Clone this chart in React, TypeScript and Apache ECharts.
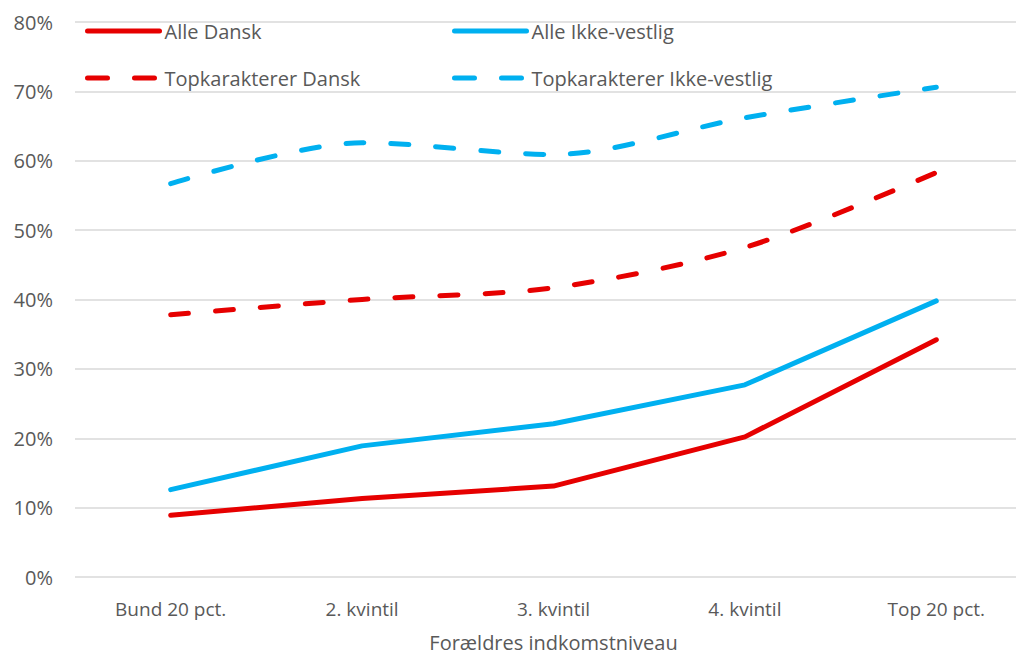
import React, { useEffect, useRef } from "react";
import * as echarts from "echarts";

const categories = ["Bund 20 pct.", "2. kvintil", "3. kvintil", "4. kvintil", "Top 20 pct."];
const alleDansk = [8.9, 11.3, 13.1, 20.2, 34.2];
const alleIkkeVestlig = [12.6, 18.9, 22.1, 27.7, 39.8];
const topDansk = [37.8, 40.0, 41.7, 47.5, 58.3];
const topIkkeVestlig = [56.7, 62.6, 60.9, 66.2, 70.6];
const seriesNames = ["Alle Dansk", "Alle Ikke-vestlig", "Topkarakterer Dansk", "Topkarakterer Ikke-vestlig"];

const RED = "#E60000";
const BLUE = "#00B0F0";
const TEXT = "#595959";
const FONT = "'Open Sans', 'Noto Sans', sans-serif";

export default function App() {
  const ref = useRef<HTMLDivElement>(null);
  useEffect(() => {
    if (!ref.current) return;
    const chart = echarts.init(ref.current, null, { renderer: "svg" });
    const legendPos = [
      { left: 80, top: 16 },
      { left: 447, top: 16 },
      { left: 80, top: 63 },
      { left: 447, top: 63 },
    ];
    const dashed = [2, 3];
    chart.setOption({
      animation: false,
      backgroundColor: "#ffffff",
      grid: {
        left: 75,
        width: 957,
        top: 22,
        bottom: 81,
        containLabel: false,
        outerBoundsMode: "none",
      },
      legend: seriesNames.map((n, i) => ({
        data: [n],
        left: legendPos[i].left,
        top: legendPos[i].top,
        itemWidth: 72,
        itemHeight: 22,
        itemStyle: { opacity: 0 },
        lineStyle: dashed.includes(i)
          ? { width: 5, type: [20, 27], cap: "round" }
          : { width: 5, cap: "round" },
        textStyle: { color: TEXT, fontSize: 20, fontFamily: FONT },
        selectedMode: false,
      })),
      xAxis: {
        type: "category",
        data: categories,
        boundaryGap: true,
        axisLine: { show: false },
        axisTick: { show: false },
        axisLabel: { color: TEXT, fontSize: 19, fontFamily: FONT, margin: 22 },
        name: "Forældres indkomstniveau",
        nameLocation: "middle",
        nameGap: 55,
        nameTextStyle: { color: TEXT, fontSize: 20, fontFamily: FONT, lineHeight: 20 },
      },
      yAxis: {
        type: "value",
        min: 0,
        max: 80,
        interval: 10,
        axisLine: { show: false },
        axisTick: { show: false },
        splitLine: { lineStyle: { color: "#D9D9D9", width: 1.5 } },
        axisLabel: { color: TEXT, fontSize: 20, fontFamily: FONT, formatter: "{value}%", margin: 22 },
      },
      series: [
        {
          name: seriesNames[0],
          type: "line",
          data: alleDansk,
          symbol: "none",
          lineStyle: { color: RED, width: 5, cap: "round", join: "round" },
          itemStyle: { color: RED },
          z: 4,
        },
        {
          name: seriesNames[1],
          type: "line",
          data: alleIkkeVestlig,
          symbol: "none",
          lineStyle: { color: BLUE, width: 5, cap: "round", join: "round" },
          itemStyle: { color: BLUE },
          z: 3,
        },
        {
          name: seriesNames[2],
          type: "line",
          data: topDansk,
          symbol: "none",
          smooth: 0.3,
          lineStyle: { color: RED, width: 5, type: [18, 27], cap: "round" },
          itemStyle: { color: RED },
          z: 2,
        },
        {
          name: seriesNames[3],
          type: "line",
          data: topIkkeVestlig,
          symbol: "none",
          smooth: 0.3,
          lineStyle: { color: BLUE, width: 5, type: [18, 27], cap: "round" },
          itemStyle: { color: BLUE },
          z: 1,
        },
      ],
    });
    return () => chart.dispose();
  }, []);
  return (
    <div
      ref={ref}
      style={{ position: "fixed", left: 0, top: 0, width: 1016, height: 658, background: "#fff" }}
    />
  );
}
